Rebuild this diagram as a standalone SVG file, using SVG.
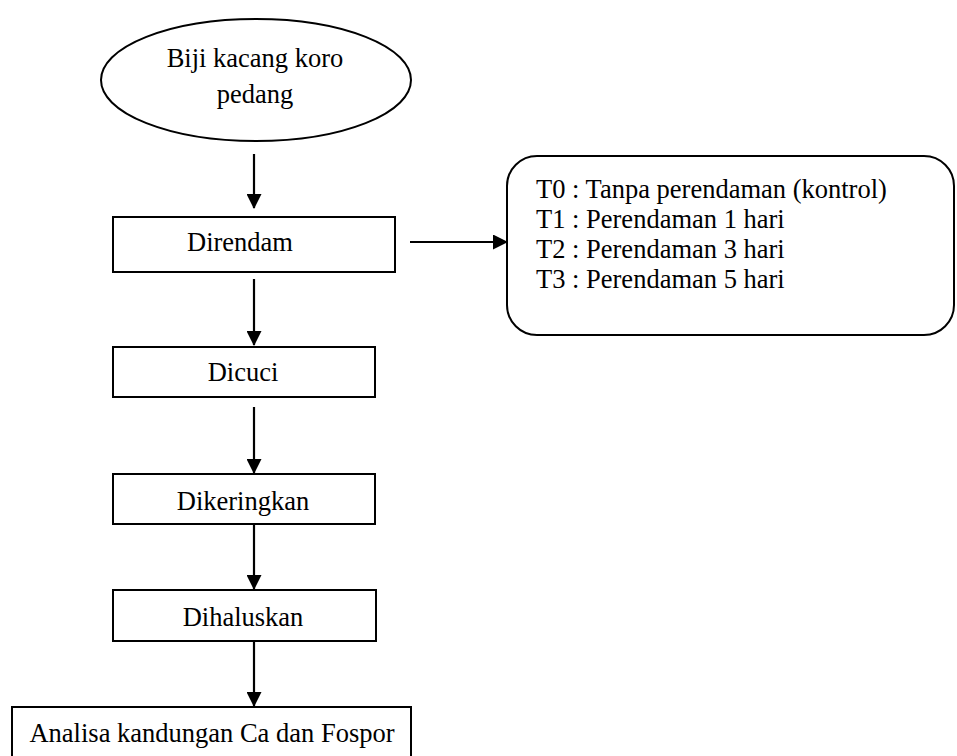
<svg xmlns="http://www.w3.org/2000/svg" width="957" height="756" viewBox="0 0 957 756">
<defs>
<marker id="ah" markerWidth="15" markerHeight="15" refX="14" refY="7.5" orient="auto" markerUnits="userSpaceOnUse">
<path d="M0,0 L15,7.5 L0,15 Z" fill="#000"/>
</marker>
<style>
.shape{fill:#fff;stroke:#000;stroke-width:2}
.t{font-family:"Liberation Serif","Times New Roman",serif;font-size:26.5px;fill:#000}
.c{text-anchor:middle}
.conn line{stroke:#000;stroke-width:2.2;marker-end:url(#ah)}
</style>
</defs>
<rect width="957" height="756" fill="#fff"/>
<g id="n-biji">
<ellipse class="shape" cx="256" cy="80" rx="155" ry="61"/>
<text class="t c" x="255" y="67">Biji kacang koro</text>
<text class="t c" x="255" y="103">pedang</text>
</g>
<g id="n-direndam">
<rect class="shape" x="113" y="217" width="282" height="55"/>
<text class="t c" x="240" y="251">Direndam</text>
</g>
<g id="n-perlakuan">
<rect class="shape" x="507" y="156" width="447" height="179" rx="30" ry="30"/>
<text class="t" x="536" y="198">T0 : Tanpa perendaman (kontrol)</text>
<text class="t" x="536" y="228">T1 : Perendaman 1 hari</text>
<text class="t" x="536" y="258">T2 : Perendaman 3 hari</text>
<text class="t" x="536" y="288">T3 : Perendaman 5 hari</text>
</g>
<g id="n-dicuci">
<rect class="shape" x="113" y="347" width="262" height="50"/>
<text class="t c" x="243" y="381">Dicuci</text>
</g>
<g id="n-dikeringkan">
<rect class="shape" x="113" y="474" width="262" height="50"/>
<text class="t c" x="243" y="510">Dikeringkan</text>
</g>
<g id="n-dihaluskan">
<rect class="shape" x="113" y="590" width="263" height="51"/>
<text class="t c" x="243" y="626">Dihaluskan</text>
</g>
<g id="n-analisa">
<rect class="shape" x="12" y="707" width="399" height="52"/>
<text class="t c" x="212" y="742">Analisa kandungan Ca dan Fospor</text>
</g>
<g id="connectors" class="conn">
<line x1="254" y1="154" x2="254" y2="208"/>
<line x1="410" y1="242" x2="507" y2="242"/>
<line x1="254" y1="279" x2="254" y2="345"/>
<line x1="254" y1="407" x2="254" y2="473"/>
<line x1="254" y1="524" x2="254" y2="589"/>
<line x1="254" y1="641" x2="254" y2="706"/>
</g>
</svg>
